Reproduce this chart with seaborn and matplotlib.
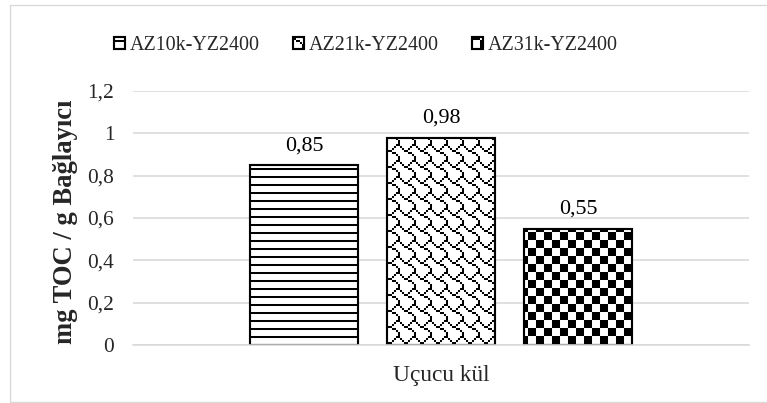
import warnings
warnings.filterwarnings("ignore")
import numpy as np
import pandas as pd
import matplotlib
matplotlib.use("Agg")
import matplotlib.pyplot as plt
import matplotlib.hatch as mhatch
from matplotlib.path import Path
from matplotlib.patches import Rectangle
import seaborn as sns

# ---- data ----
categories = ["Uçucu kül"]
series = ["AZ10k-YZ2400", "AZ21k-YZ2400", "AZ31k-YZ2400"]
values = [0.85, 0.98, 0.55]
value_labels = ["0,85", "0,98", "0,55"]
yticks = [0, 0.2, 0.4, 0.6, 0.8, 1.0, 1.2]
ytick_labels = ["0", "0,2", "0,4", "0,6", "0,8", "1", "1,2"]
ylabel = "mg TOC / g Bağlayıcı"

# ---- 8x8 bitmap fill patterns (Office-style) ----
BITMAPS = {
    "-": ["11111111", "00000000", "00000000", "00000000",
          "11111111", "00000000", "00000000", "00000000"],
    "x": ["00000011", "10000100", "01001000", "00110000",
          "00001100", "00000010", "00000001", "00000001"],
    "+": ["00001111", "00001111", "00001111", "00001111",
          "11110000", "11110000", "11110000", "11110000"],
}


class BitmapHatch(mhatch.HatchPatternBase):
    def __init__(self, hatch, density):
        self.rects = []
        for ch, bm in BITMAPS.items():
            if ch not in hatch:
                continue
            n = density
            cell = 1.0 / n
            px = cell / 8.0
            for i in range(n):
                for j in range(n):
                    for r, row in enumerate(bm):
                        c = 0
                        while c < 8:
                            if row[c] == "1":
                                s = c
                                while c < 8 and row[c] == "1":
                                    c += 1
                                x0 = i * cell + s * px
                                x1 = i * cell + c * px
                                y1 = 1.0 - (j * cell + r * px)
                                y0 = y1 - px
                                self.rects.append((x0, x1, y0, y1))
                            else:
                                c += 1
        self.num_vertices = len(self.rects) * 5

    def set_vertices_and_codes(self, vertices, codes):
        k = 0
        for (x0, x1, y0, y1) in self.rects:
            vertices[k:k + 5] = [(x0, y0), (x1, y0), (x1, y1), (x0, y1), (x0, y0)]
            codes[k:k + 5] = [Path.MOVETO, Path.LINETO, Path.LINETO,
                              Path.LINETO, Path.CLOSEPOLY]
            k += 5


mhatch._hatch_types[:] = [BitmapHatch]
hatches = ["-", "x", "+"]

# ---- style ----
sns.set_theme(style="white")
plt.rcParams["font.family"] = ["Liberation Serif", "DejaVu Serif"]
plt.rcParams["hatch.linewidth"] = 0.01
plt.rcParams["hatch.color"] = "black"

DPI = 96
W, H = 767, 403
fig = plt.figure(figsize=(W / DPI, H / DPI), dpi=DPI)
ax = fig.add_axes([133 / W, 1 - 345 / H, (749 - 133) / W, (345 - 91) / H])

df = pd.DataFrame({
    "cat": categories * len(series),
    "series": series,
    "val": values,
})

sns.barplot(data=df, x="cat", y="val", hue="series", hue_order=series,
            width=0.667, gap=0.213, palette=["white"] * 3,
            edgecolor="black", linewidth=1.6, ax=ax, legend=True)

bars = [p for p in ax.patches if isinstance(p, Rectangle)][:3]
for p, h in zip(bars, hatches):
    p.set_hatch(h)
    p.set_facecolor("white")
    p.set_edgecolor("black")

for p, lab in zip(bars, value_labels):
    ax.annotate(lab, (p.get_x() + p.get_width() / 2, p.get_height()),
                xytext=(0, 11), textcoords="offset points",
                ha="center", va="baseline", fontsize=16.5, color="#000000")

ax.set_ylim(0, 1.2)
ax.set_yticks(yticks)
ax.set_yticklabels(ytick_labels, fontsize=16)
ax.tick_params(axis="y", length=0, pad=14)
ax.tick_params(axis="x", length=0, pad=15, labelsize=17.5)
ax.set_xlabel("")
ax.set_ylabel(ylabel, fontsize=20, fontweight="bold", va="center")
ax.yaxis.set_label_coords((66 - 133) / 616, (345 - 222) / 254)
ax.grid(axis="y", color="#d9d9d9", linewidth=1.2)
ax.set_axisbelow(True)
for s in ["left", "right", "top"]:
    ax.spines[s].set_visible(False)
ax.spines["bottom"].set_color("#d9d9d9")
ax.spines["bottom"].set_linewidth(1.2)

# legend
leg = ax.legend_
handles = leg.legend_handles
for hdl, h in zip(handles, hatches):
    hdl.set_hatch(h)
    hdl.set_facecolor("white")
    hdl.set_edgecolor("black")
    hdl.set_linewidth(1.6)
ax.legend(handles=handles, labels=series, loc="center",
          bbox_to_anchor=(366 / W, 1 - 46 / H), bbox_transform=fig.transFigure,
          ncol=3, frameon=False, fontsize=15, handlelength=0.55,
          handleheight=0.55, handletextpad=0.25, columnspacing=1.65)

# outer chart border
fig.add_artist(Rectangle((10 / W, 1 / H), (W + 10) / W, (397) / H,
                         transform=fig.transFigure, fill=False,
                         edgecolor="#d9d9d9", linewidth=1.0, clip_on=False))

fig.savefig("out.png", dpi=DPI, facecolor="white")
